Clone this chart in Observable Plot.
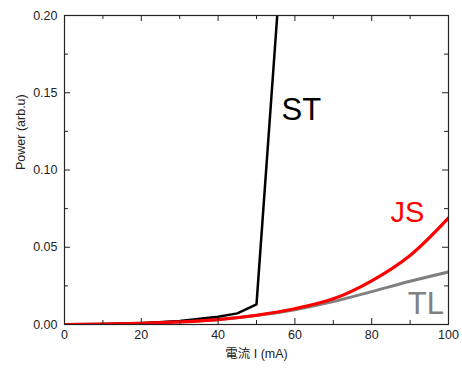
<!DOCTYPE html>
<html>
<head>
<meta charset="utf-8">
<script src="https://cdn.jsdelivr.net/npm/d3@7"></script>
<script src="https://cdn.jsdelivr.net/npm/@observablehq/plot@0.6"></script>
<style>
  html, body { margin: 0; padding: 0; background: #fff; }
</style>
</head>
<body>
<div id="chart"></div>
<script>
// ---- data ----
const stCurrent = [0, 10, 20, 30, 40, 45, 50, 55.4];
const stPower   = [0, 0.0002, 0.0008, 0.0022, 0.005, 0.0072, 0.013, 0.2];

const current = [0, 10, 20, 30, 40, 50, 60, 70, 80, 90, 100];
const jsPower = [0, 0.0003, 0.0008, 0.0017, 0.0032, 0.006, 0.0102, 0.0166, 0.0283, 0.0447, 0.069];
const tlPower = [0, 0.0003, 0.0008, 0.0017, 0.0032, 0.0058, 0.0096, 0.0148, 0.0213, 0.028, 0.034];

const seriesNames  = ["ST", "JS", "TL"];
const labelCurrent = [61.7, 89.3, 94.1];
const labelPower   = [0.1385, 0.0722, 0.0129];

const xTicks = [0, 20, 40, 60, 80, 100];
const xMinor = [10, 30, 50, 70, 90];
const yTicks = [0, 0.05, 0.10, 0.15, 0.20];
const yMinor = [0.025, 0.075, 0.125, 0.175];

const xTitle = "電流 I (mA)";
const yTitle = "Power (arb.u)";

// ---- layout ----
const width = 462, height = 369;
const marginLeft = 64, marginRight = 14, marginTop = 15, marginBottom = 45;
const plotW = width - marginLeft - marginRight;
const plotH = height - marginTop - marginBottom;
const axisColor = "#222";
const majorLen = 6, minorLen = 4;

const st = stCurrent.map((x, i) => ({x, y: stPower[i]}));
const js = current.map((x, i) => ({x, y: jsPower[i]}));
const tl = current.map((x, i) => ({x, y: tlPower[i]}));
const labels = seriesNames.map((name, i) => ({name, x: labelCurrent[i], y: labelPower[i]}));
const labelColor = {ST: "#000", JS: "#ff0000", TL: "#808080"};
const labelSize = {ST: 31, JS: 29, TL: 31};

const font = "Liberation Sans, Arial, 'Noto Sans CJK JP', sans-serif";

const chart = Plot.plot({
  width, height, marginLeft, marginRight, marginTop, marginBottom,
  style: {fontFamily: font, fontSize: "12px", background: "#fff", color: axisColor},
  x: {domain: [0, 100]},
  y: {domain: [0, 0.2]},
  marks: [
    Plot.line(tl, {x: "x", y: "y", stroke: "#808080", strokeWidth: 3, curve: "catmull-rom", clip: true}),
    Plot.line(st, {x: "x", y: "y", stroke: "#000", strokeWidth: 2.5, clip: true}),
    Plot.line(js, {x: "x", y: "y", stroke: "#ff0000", strokeWidth: 3.2, curve: "catmull-rom", clip: true}),
    // inward ticks on all four sides
    Plot.tickX(xTicks, {x: d => d, stroke: axisColor, insetTop: plotH - majorLen}),
    Plot.tickX(xMinor, {x: d => d, stroke: axisColor, insetTop: plotH - minorLen}),
    Plot.tickX(xTicks, {x: d => d, stroke: axisColor, insetBottom: plotH - majorLen}),
    Plot.tickX(xMinor, {x: d => d, stroke: axisColor, insetBottom: plotH - minorLen}),
    Plot.tickY(yTicks, {y: d => d, stroke: axisColor, insetRight: plotW - majorLen}),
    Plot.tickY(yMinor, {y: d => d, stroke: axisColor, insetRight: plotW - minorLen}),
    Plot.tickY(yTicks, {y: d => d, stroke: axisColor, insetLeft: plotW - majorLen}),
    Plot.tickY(yMinor, {y: d => d, stroke: axisColor, insetLeft: plotW - minorLen}),
    Plot.frame({stroke: axisColor, strokeWidth: 1.2}),
    Plot.axisX({ticks: xTicks, tickSize: 0, tickPadding: 6, label: null, fontSize: 12.5, fill: axisColor}),
    Plot.axisY({ticks: yTicks, tickSize: 0, tickPadding: 7, label: null, tickFormat: d3.format(".2f"), fontSize: 12.5, fill: axisColor}),
    Plot.text([yTitle], {frameAnchor: "left", rotate: -90, dx: -44, fontSize: 12.5, fill: axisColor}),
    Plot.text([xTitle], {frameAnchor: "bottom", dy: 33, fontSize: 12.5, fill: axisColor, ariaLabel: "xtitle"}),
    Plot.text(labels, {x: "x", y: "y", text: "name", fill: d => labelColor[d.name], fontSize: d => labelSize[d.name]})
  ]
});

document.getElementById("chart").appendChild(chart);

// italic current symbol in the x title
d3.select(chart).selectAll('g[aria-label="xtitle"] text').each(function() {
  const t = d3.select(this);
  t.text(null);
  t.append("tspan").text("電流 ");
  t.append("tspan").attr("font-style", "italic").text("I");
  t.append("tspan").text(" (mA)");
});
</script>
</body>
</html>
